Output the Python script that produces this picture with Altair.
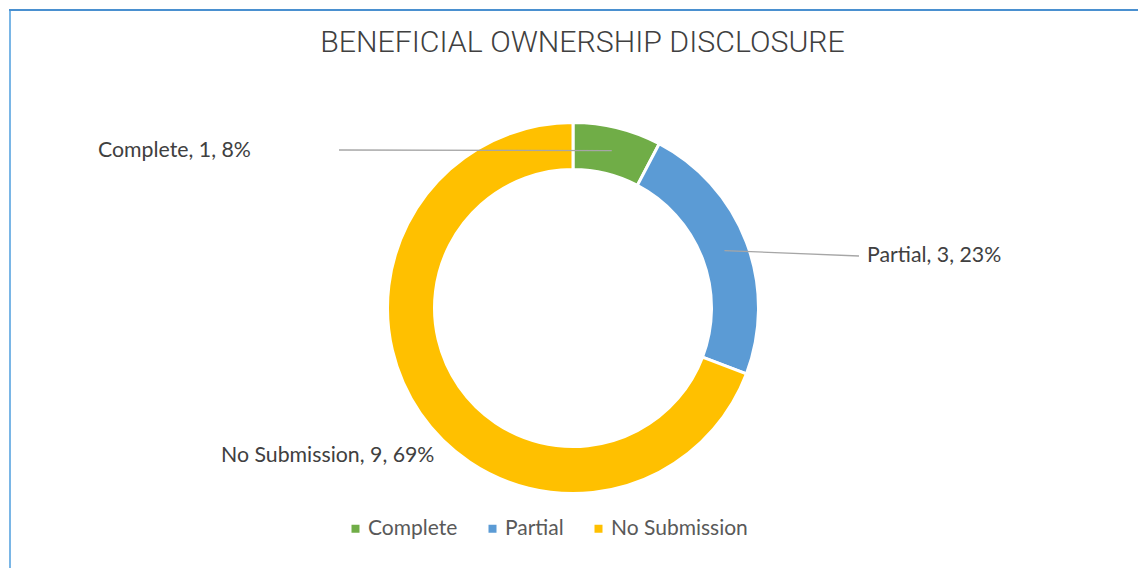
import math
import altair as alt
import pandas as pd

# ---- data ----
categories = ["Complete", "Partial", "No Submission"]
values = [1, 3, 9]
colors = ["#70AD47", "#5B9BD5", "#FFC000"]
title_text = "BENEFICIAL OWNERSHIP DISCLOSURE"

total = sum(values)
pcts = [round(v / total * 100) for v in values]
labels = [f"{c}, {v}, {p}%" for c, v, p in zip(categories, values, pcts)]

# ---- layout (chart pixel coordinates) ----
W, H = 1130, 560
CX, CY = 564, 299
R_OUT, R_IN = 185.5, 138.5
R_MID = 162
label_pos = {"Complete": (89, 142), "Partial": (858, 247), "No Submission": (212, 447)}
leader_end = {"Complete": (330, 141), "Partial": (850, 247)}

df = pd.DataFrame({
    "category": categories,
    "value": values,
    "order": list(range(len(categories))),
    "label": labels,
    "lx": [label_pos[c][0] for c in categories],
    "ly": [label_pos[c][1] for c in categories],
})

# leader lines start at mid-slice
rows = []
cum = 0
for c, v in zip(categories, values):
    mid = (cum + v / 2) / total * 2 * math.pi
    cum += v
    if c in leader_end:
        rows.append({
            "x": CX + R_MID * math.sin(mid),
            "y": CY - R_MID * math.cos(mid),
            "x2": leader_end[c][0],
            "y2": leader_end[c][1],
        })
lines = pd.DataFrame(rows)

arcs = alt.Chart(df).mark_arc(
    radius=R_OUT, radius2=R_IN, stroke="white", strokeWidth=3
).encode(
    theta=alt.Theta("value:Q", stack=True),
    color=alt.Color(
        "category:N",
        scale=alt.Scale(domain=categories, range=colors),
        legend=alt.Legend(
            title=None,
            orient="none",
            direction="horizontal",
            legendX=336,
            legendY=509,
            symbolType="square",
            symbolSize=64,
            symbolStrokeWidth=0,
            labelFont="Lato",
            labelFontSize=21,
            labelColor="#595959",
            labelOffset=2,
            columnPadding=24,
            padding=0,
        ),
    ),
    order=alt.Order("order:Q"),
    x=alt.value(CX),
    y=alt.value(CY),
)

leaders = alt.Chart(lines).mark_rule(color="#A6A6A6", strokeWidth=1.3).encode(
    x=alt.X("x:Q", scale=None, axis=None),
    y=alt.Y("y:Q", scale=None, axis=None),
    x2="x2:Q",
    y2="y2:Q",
)

texts = alt.Chart(df).mark_text(
    align="left", baseline="middle", font="Lato", fontSize=21.3, color="#404040"
).encode(
    x=alt.X("lx:Q", scale=None, axis=None),
    y=alt.Y("ly:Q", scale=None, axis=None),
    text="label:N",
)

title = alt.Chart(pd.DataFrame({"t": [title_text]})).mark_text(
    align="center", baseline="middle", font="Roboto", fontWeight=300,
    fontSize=30.3, color="#404040"
).encode(x=alt.value(573.5), y=alt.value(34), text="t:N")

border_left = alt.Chart(pd.DataFrame({"a": [0]})).mark_rule(
    color="#7AB6E6", strokeWidth=2
).encode(x=alt.value(1), y=alt.value(0), y2=alt.value(H))
border_top = alt.Chart(pd.DataFrame({"a": [0]})).mark_rule(
    color="#4A90D0", strokeWidth=2
).encode(x=alt.value(0), x2=alt.value(W), y=alt.value(1))

chart = alt.layer(arcs, leaders, texts, title, border_left, border_top).properties(
    width=W, height=H, padding=0,
    autosize=alt.AutoSizeParams(type="fit", contains="padding"),
    background="white",
).configure_view(stroke=None)

chart.save("out.html", embed_options={"renderer": "svg", "actions": False})
